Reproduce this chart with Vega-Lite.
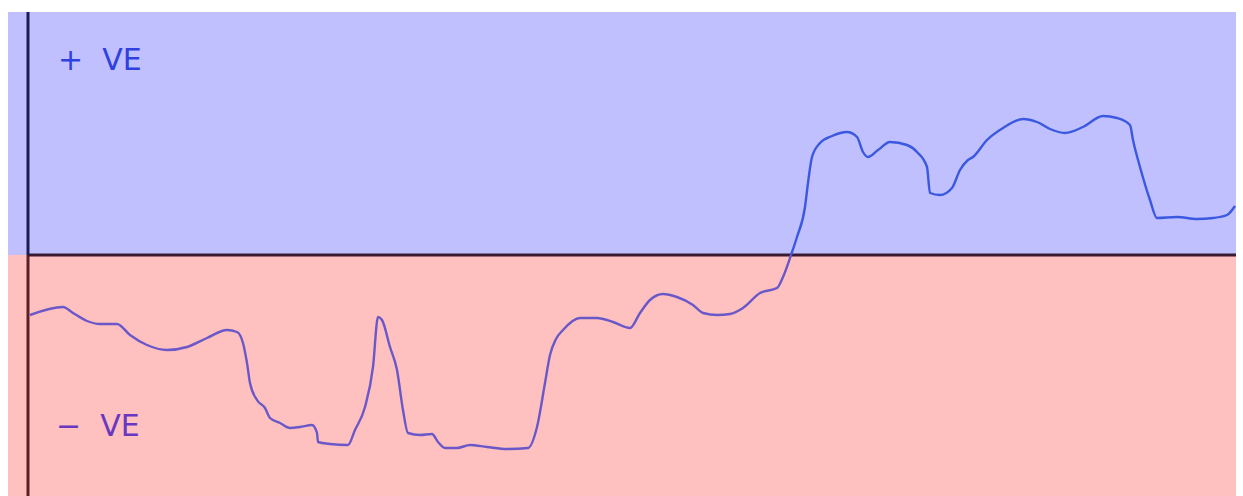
{
  "$schema": "https://vega.github.io/schema/vega-lite/v6.json",
  "width": 1228,
  "height": 484,
  "autosize": {"type": "none"},
  "padding": {"left": 8, "top": 12, "right": 7, "bottom": 0},
  "background": "white",
  "config": {"view": {"stroke": null}},
  "resolve": {"scale": {"stroke": "independent", "fill": "independent", "color": "independent"}},
  "datasets": {
    "bands": [
      {"band": "pos", "x0": 8, "x1": 1236, "y0": 0, "y1": 243},
      {"band": "neg", "x0": 8, "x1": 1236, "y0": -241, "y1": 0}
    ],
    "axes": [
      {"part": "vtop", "x0": 28, "x1": 28, "y0": 0, "y1": 243},
      {"part": "vbot", "x0": 28, "x1": 28, "y0": -241, "y1": 0},
      {"part": "h", "x0": 28, "x1": 1236, "y0": 0, "y1": 0}
    ],
    "labels": [
      {"label": "+\u00a0\u00a0VE", "x": 58, "y": 194, "side": "pos"},
      {"label": "−\u00a0\u00a0VE", "x": 56, "y": -172, "side": "neg"}
    ],
    "series": [
      {"x": 30, "y": -60, "side": "neg"},
      {"x": 63, "y": -52, "side": "neg"},
      {"x": 73, "y": -58, "side": "neg"},
      {"x": 87, "y": -66, "side": "neg"},
      {"x": 100, "y": -69, "side": "neg"},
      {"x": 117, "y": -69, "side": "neg"},
      {"x": 130, "y": -80, "side": "neg"},
      {"x": 147, "y": -90, "side": "neg"},
      {"x": 167, "y": -95, "side": "neg"},
      {"x": 187, "y": -92, "side": "neg"},
      {"x": 207, "y": -83, "side": "neg"},
      {"x": 227, "y": -75, "side": "neg"},
      {"x": 237, "y": -77, "side": "neg"},
      {"x": 243, "y": -88, "side": "neg"},
      {"x": 247, "y": -108, "side": "neg"},
      {"x": 250, "y": -128, "side": "neg"},
      {"x": 257, "y": -145, "side": "neg"},
      {"x": 265, "y": -153, "side": "neg"},
      {"x": 270, "y": -163, "side": "neg"},
      {"x": 280, "y": -168, "side": "neg"},
      {"x": 290, "y": -173, "side": "neg"},
      {"x": 300, "y": -172, "side": "neg"},
      {"x": 312, "y": -170, "side": "neg"},
      {"x": 317, "y": -178, "side": "neg"},
      {"x": 318, "y": -187, "side": "neg"},
      {"x": 330, "y": -189, "side": "neg"},
      {"x": 348, "y": -190, "side": "neg"},
      {"x": 355, "y": -175, "side": "neg"},
      {"x": 365, "y": -152, "side": "neg"},
      {"x": 373, "y": -112, "side": "neg"},
      {"x": 378, "y": -62, "side": "neg"},
      {"x": 382, "y": -65, "side": "neg"},
      {"x": 390, "y": -92, "side": "neg"},
      {"x": 397, "y": -115, "side": "neg"},
      {"x": 403, "y": -155, "side": "neg"},
      {"x": 408, "y": -178, "side": "neg"},
      {"x": 420, "y": -180, "side": "neg"},
      {"x": 432, "y": -179, "side": "neg"},
      {"x": 438, "y": -187, "side": "neg"},
      {"x": 445, "y": -193, "side": "neg"},
      {"x": 457, "y": -193, "side": "neg"},
      {"x": 470, "y": -190, "side": "neg"},
      {"x": 487, "y": -192, "side": "neg"},
      {"x": 507, "y": -194, "side": "neg"},
      {"x": 528, "y": -193, "side": "neg"},
      {"x": 537, "y": -172, "side": "neg"},
      {"x": 545, "y": -128, "side": "neg"},
      {"x": 550, "y": -100, "side": "neg"},
      {"x": 556, "y": -84, "side": "neg"},
      {"x": 563, "y": -75, "side": "neg"},
      {"x": 580, "y": -63, "side": "neg"},
      {"x": 597, "y": -63, "side": "neg"},
      {"x": 613, "y": -67, "side": "neg"},
      {"x": 630, "y": -73, "side": "neg"},
      {"x": 640, "y": -58, "side": "neg"},
      {"x": 650, "y": -45, "side": "neg"},
      {"x": 663, "y": -39, "side": "neg"},
      {"x": 677, "y": -42, "side": "neg"},
      {"x": 693, "y": -50, "side": "neg"},
      {"x": 703, "y": -58, "side": "neg"},
      {"x": 717, "y": -60, "side": "neg"},
      {"x": 730, "y": -59, "side": "neg"},
      {"x": 743, "y": -53, "side": "neg"},
      {"x": 760, "y": -38, "side": "neg"},
      {"x": 777, "y": -33, "side": "neg"},
      {"x": 783, "y": -22, "side": "neg"},
      {"x": 791, "y": 0, "side": "neg"},
      {"x": 791, "y": 0, "side": "pos"},
      {"x": 797, "y": 18, "side": "pos"},
      {"x": 805, "y": 48, "side": "pos"},
      {"x": 808, "y": 72, "side": "pos"},
      {"x": 812, "y": 98, "side": "pos"},
      {"x": 820, "y": 112, "side": "pos"},
      {"x": 832, "y": 119, "side": "pos"},
      {"x": 847, "y": 123, "side": "pos"},
      {"x": 857, "y": 118, "side": "pos"},
      {"x": 863, "y": 103, "side": "pos"},
      {"x": 868, "y": 98, "side": "pos"},
      {"x": 878, "y": 105, "side": "pos"},
      {"x": 890, "y": 113, "side": "pos"},
      {"x": 907, "y": 110, "side": "pos"},
      {"x": 917, "y": 103, "side": "pos"},
      {"x": 927, "y": 88, "side": "pos"},
      {"x": 930, "y": 62, "side": "pos"},
      {"x": 940, "y": 60, "side": "pos"},
      {"x": 952, "y": 67, "side": "pos"},
      {"x": 960, "y": 85, "side": "pos"},
      {"x": 968, "y": 95, "side": "pos"},
      {"x": 973, "y": 98, "side": "pos"},
      {"x": 987, "y": 115, "side": "pos"},
      {"x": 1003, "y": 127, "side": "pos"},
      {"x": 1023, "y": 136, "side": "pos"},
      {"x": 1037, "y": 133, "side": "pos"},
      {"x": 1050, "y": 126, "side": "pos"},
      {"x": 1065, "y": 122, "side": "pos"},
      {"x": 1083, "y": 128, "side": "pos"},
      {"x": 1103, "y": 139, "side": "pos"},
      {"x": 1117, "y": 137, "side": "pos"},
      {"x": 1130, "y": 130, "side": "pos"},
      {"x": 1133, "y": 115, "side": "pos"},
      {"x": 1140, "y": 88, "side": "pos"},
      {"x": 1150, "y": 55, "side": "pos"},
      {"x": 1157, "y": 37, "side": "pos"},
      {"x": 1177, "y": 38, "side": "pos"},
      {"x": 1197, "y": 36, "side": "pos"},
      {"x": 1213, "y": 37, "side": "pos"},
      {"x": 1227, "y": 40, "side": "pos"},
      {"x": 1235, "y": 49, "side": "pos"}
    ]
  },
  "layer": [
    {
      "data": {"name": "bands"},
      "mark": {"type": "rect"},
      "encoding": {
        "x": {"field": "x0", "type": "quantitative", "scale": {"domain": [8, 1236], "nice": false, "zero": false}, "axis": null},
        "x2": {"field": "x1"},
        "y": {"field": "y0", "type": "quantitative", "scale": {"domain": [-241, 243], "nice": false, "zero": false}, "axis": null},
        "y2": {"field": "y1"},
        "color": {"field": "band", "type": "nominal", "scale": {"domain": ["pos", "neg"], "range": ["#c0c0ff", "#ffc0c0"]}, "legend": null}
      }
    },
    {
      "data": {"name": "axes"},
      "mark": {"type": "rule", "strokeWidth": 3},
      "encoding": {
        "x": {"field": "x0", "type": "quantitative"},
        "x2": {"field": "x1"},
        "y": {"field": "y0", "type": "quantitative"},
        "y2": {"field": "y1"},
        "stroke": {"field": "part", "type": "nominal", "scale": {"domain": ["vtop", "vbot", "h"], "range": ["#1c1c55", "#5a2025", "#3a1a30"]}, "legend": null}
      }
    },
    {
      "data": {"name": "series"},
      "mark": {"type": "line", "strokeWidth": 2.4, "interpolate": "monotone"},
      "encoding": {
        "x": {"field": "x", "type": "quantitative"},
        "y": {"field": "y", "type": "quantitative"},
        "detail": {"field": "side"},
        "stroke": {"field": "side", "type": "nominal", "scale": {"domain": ["pos", "neg"], "range": ["#3a58e0", "#6a58c8"]}, "legend": null}
      }
    },
    {
      "data": {"name": "labels"},
      "mark": {"type": "text", "align": "left", "baseline": "middle", "fontSize": 30, "font": "DejaVu Sans", "fontWeight": "normal"},
      "encoding": {
        "x": {"field": "x", "type": "quantitative"},
        "y": {"field": "y", "type": "quantitative"},
        "text": {"field": "label"},
        "fill": {"field": "side", "type": "nominal", "scale": {"domain": ["pos", "neg"], "range": ["#3040e0", "#6838c0"]}, "legend": null}
      }
    }
  ]
}
